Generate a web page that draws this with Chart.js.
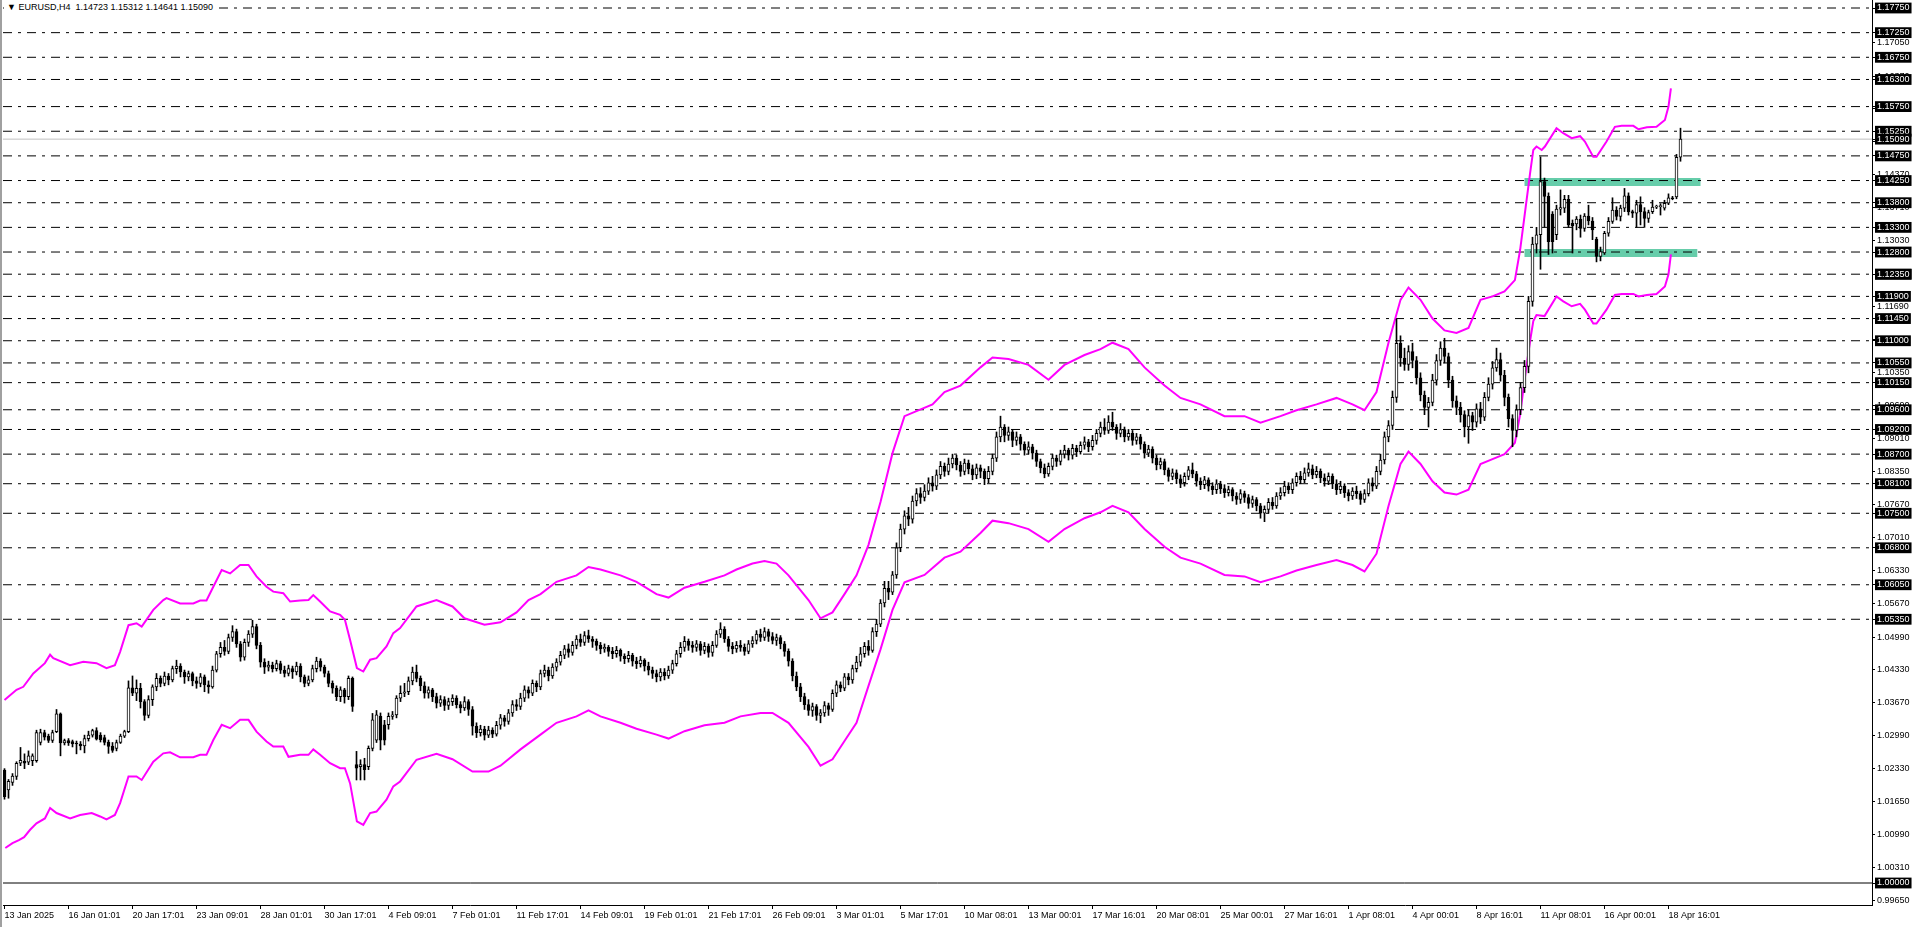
<!DOCTYPE html>
<html>
<head>
<meta charset="utf-8">
<script src="https://cdn.jsdelivr.net/npm/chart.js@4.4.1/dist/chart.umd.min.js"></script>
<style>
  html, body { margin: 0; padding: 0; background: #fff; overflow: hidden; }
  #wrap { position: relative; width: 1920px; height: 927px; }
  #hdr { position: absolute; left: 4px; top: 2px; height: 12px; line-height: 12px; padding: 0 3px;
         font: 9px 'Liberation Sans', Arial, sans-serif; color: #000; background: #fff; white-space: pre; }
</style>
</head>
<body>
<div id="wrap">
  <canvas id="grafico" width="1920" height="927"></canvas>
  <div id="hdr"></div>
</div>
<script>
// Cabecera del gráfico: símbolo y última vela (O H L C)
const symbolTitle = 'EURUSD,H4';
const lastQuote = ['1.14723', '1.15312', '1.14641', '1.15090'];

// Velas H4 [open, high, low, close], separadas por mes
const janBars = [
  [1.0229,1.0232,1.0170,1.0175],[1.0189,1.0210,1.0172,1.0206],[1.0204,1.0222,1.0198,1.0217],[1.0216,1.0246,1.0210,1.0243],[1.0243,1.0275,1.0238,1.0249],[1.0247,1.0262,1.0232,1.0243],[1.0245,1.0268,1.0240,1.0258],[1.0248,1.0262,1.0238,1.0258],[1.0248,1.0310,1.0245,1.0305],[1.0285,1.0312,1.0280,1.0305],
  [1.0305,1.0310,1.0290,1.0296],[1.0298,1.0302,1.0285,1.0289],[1.0289,1.0310,1.0285,1.0305],[1.0307,1.0352,1.0305,1.0343],[1.0343,1.0345,1.0258,1.0284],[1.0284,1.0292,1.0280,1.0289],[1.0289,1.0293,1.0279,1.0284],[1.0287,1.0290,1.0276,1.0282],[1.0284,1.0288,1.0262,1.0282],[1.0282,1.0287,1.0270,1.0278],
  [1.0278,1.0300,1.0264,1.0293],[1.0293,1.0308,1.0288,1.0300],[1.0300,1.0312,1.0296,1.0309],[1.0309,1.0315,1.0290,1.0292],[1.0300,1.0305,1.0286,1.0291],[1.0295,1.0300,1.0280,1.0285],[1.0286,1.0290,1.0263,1.0277],[1.0278,1.0285,1.0265,1.0269],[1.0273,1.0290,1.0268,1.0285],[1.0285,1.0302,1.0283,1.0298],
  [1.0298,1.0310,1.0295,1.0307],[1.0307,1.0410,1.0305,1.0396],[1.0396,1.0420,1.0380,1.0385],[1.0385,1.0412,1.0370,1.0395],[1.0395,1.0405,1.0355,1.0368],[1.0368,1.0372,1.0330,1.0340],[1.0340,1.0380,1.0335,1.0372],[1.0372,1.0402,1.0360,1.0398],[1.0398,1.0425,1.0390,1.0415],[1.0415,1.0420,1.0398,1.0405],
  [1.0405,1.0428,1.0400,1.0420],[1.0420,1.0425,1.0402,1.0412],[1.0412,1.0440,1.0408,1.0435],[1.0435,1.0452,1.0425,1.0440],[1.0440,1.0445,1.0418,1.0428],[1.0428,1.0432,1.0405,1.0418],[1.0418,1.0430,1.0410,1.0425],[1.0425,1.0428,1.0400,1.0410],[1.0410,1.0418,1.0395,1.0405],[1.0405,1.0425,1.0398,1.0418],
  [1.0418,1.0422,1.0388,1.0402],[1.0402,1.0410,1.0385,1.0398],[1.0398,1.0440,1.0395,1.0432],[1.0432,1.0470,1.0428,1.0465],[1.0465,1.0488,1.0458,1.0478],[1.0478,1.0492,1.0462,1.0470],[1.0470,1.0505,1.0465,1.0498],[1.0498,1.0522,1.0490,1.0510],[1.0510,1.0515,1.0478,1.0485],[1.0485,1.0490,1.0450,1.0458],
  [1.0458,1.0495,1.0452,1.0488],[1.0488,1.0512,1.0480,1.0505],[1.0505,1.0533,1.0498,1.0520],[1.0520,1.0525,1.0475,1.0482],[1.0482,1.0488,1.0438,1.0448],[1.0448,1.0455,1.0425,1.0438],[1.0438,1.0450,1.0430,1.0442],[1.0442,1.0448,1.0428,1.0435],[1.0435,1.0452,1.0430,1.0445],[1.0445,1.0450,1.0425,1.0432],
  [1.0432,1.0440,1.0418,1.0425],[1.0425,1.0442,1.0420,1.0435],[1.0435,1.0440,1.0415,1.0428],[1.0428,1.0448,1.0422,1.0440],[1.0440,1.0445,1.0408,1.0418],[1.0418,1.0422,1.0398,1.0405],[1.0405,1.0420,1.0400,1.0412],[1.0412,1.0442,1.0408,1.0435],[1.0435,1.0458,1.0428,1.0450],[1.0450,1.0455,1.0430,1.0438],
  [1.0438,1.0442,1.0418,1.0425],[1.0425,1.0430,1.0398,1.0405],[1.0405,1.0410,1.0385,1.0395],[1.0395,1.0400,1.0370,1.0378],[1.0378,1.0398,1.0368,1.0392],[1.0392,1.0395,1.0365,1.0378],[1.0378,1.0420,1.0372,1.0415],[1.0415,1.0418,1.0348,1.0358]
];
const febBars = [
  [1.0240,1.0267,1.0209,1.0233],[1.0236,1.0250,1.0209,1.0240],[1.0240,1.0253,1.0209,1.0230],[1.0236,1.0278,1.0230,1.0273],[1.0273,1.0344,1.0268,1.0331],[1.0290,1.0350,1.0285,1.0341],[1.0338,1.0345,1.0270,1.0290],[1.0321,1.0330,1.0280,1.0290],[1.0321,1.0345,1.0312,1.0338],[1.0338,1.0348,1.0332,1.0341],
  [1.0341,1.0380,1.0335,1.0375],[1.0375,1.0400,1.0368,1.0385],[1.0385,1.0405,1.0378,1.0388],[1.0388,1.0418,1.0382,1.0410],[1.0410,1.0438,1.0402,1.0428],[1.0428,1.0442,1.0408,1.0415],[1.0415,1.0420,1.0390,1.0400],[1.0400,1.0408,1.0375,1.0385],[1.0385,1.0398,1.0375,1.0392],[1.0392,1.0395,1.0368,1.0378],
  [1.0378,1.0385,1.0355,1.0365],[1.0365,1.0380,1.0358,1.0372],[1.0372,1.0378,1.0350,1.0360],[1.0360,1.0375,1.0352,1.0368],[1.0368,1.0382,1.0360,1.0375],[1.0375,1.0380,1.0355,1.0362],[1.0362,1.0368,1.0345,1.0355],[1.0355,1.0378,1.0350,1.0368],[1.0368,1.0372,1.0340,1.0352],[1.0352,1.0358,1.0300,1.0318],
  [1.0318,1.0325,1.0295,1.0305],[1.0305,1.0320,1.0298,1.0312],[1.0312,1.0318,1.0290,1.0300],[1.0300,1.0318,1.0295,1.0310],[1.0310,1.0315,1.0295,1.0302],[1.0302,1.0328,1.0298,1.0320],[1.0320,1.0342,1.0312,1.0335],[1.0335,1.0340,1.0318,1.0328],[1.0328,1.0352,1.0322,1.0345],[1.0345,1.0370,1.0338,1.0362],
  [1.0362,1.0372,1.0350,1.0358],[1.0358,1.0385,1.0352,1.0375],[1.0375,1.0400,1.0368,1.0392],[1.0392,1.0398,1.0375,1.0385],[1.0385,1.0412,1.0380,1.0405],[1.0405,1.0410,1.0388,1.0398],[1.0398,1.0432,1.0392,1.0425],[1.0425,1.0442,1.0418,1.0432],[1.0432,1.0438,1.0410,1.0420],[1.0420,1.0445,1.0415,1.0438],
  [1.0438,1.0455,1.0430,1.0448],[1.0448,1.0470,1.0442,1.0462],[1.0462,1.0482,1.0455,1.0475],[1.0475,1.0485,1.0458,1.0468],[1.0468,1.0490,1.0462,1.0482],[1.0482,1.0502,1.0475,1.0495],[1.0495,1.0505,1.0480,1.0488],[1.0488,1.0510,1.0482,1.0502],[1.0502,1.0513,1.0488,1.0495],[1.0495,1.0500,1.0478,1.0490],
  [1.0490,1.0495,1.0472,1.0482],[1.0482,1.0488,1.0465,1.0475],[1.0475,1.0485,1.0468,1.0478],[1.0478,1.0482,1.0460,1.0470],[1.0470,1.0478,1.0455,1.0465],[1.0465,1.0480,1.0458,1.0472],[1.0472,1.0475,1.0450,1.0460],[1.0460,1.0465,1.0445,1.0455],[1.0455,1.0470,1.0448,1.0462],[1.0462,1.0466,1.0440,1.0450],
  [1.0450,1.0458,1.0435,1.0445],[1.0445,1.0460,1.0438,1.0452],[1.0452,1.0455,1.0430,1.0440],[1.0440,1.0448,1.0422,1.0432],[1.0432,1.0438,1.0415,1.0425],[1.0425,1.0432,1.0408,1.0418],[1.0418,1.0435,1.0410,1.0428],[1.0428,1.0435,1.0412,1.0420],[1.0420,1.0440,1.0415,1.0432],[1.0432,1.0452,1.0425,1.0445],
  [1.0445,1.0472,1.0440,1.0465],[1.0465,1.0488,1.0458,1.0478],[1.0478,1.0500,1.0470,1.0490],[1.0490,1.0495,1.0472,1.0482],[1.0482,1.0490,1.0468,1.0478],[1.0478,1.0492,1.0470,1.0485],[1.0485,1.0490,1.0462,1.0472],[1.0472,1.0488,1.0465,1.0480],[1.0480,1.0485,1.0458,1.0468],[1.0468,1.0490,1.0460,1.0482],
  [1.0482,1.0512,1.0478,1.0505],[1.0505,1.0528,1.0498,1.0515],[1.0515,1.0520,1.0488,1.0495],[1.0495,1.0500,1.0470,1.0480],[1.0480,1.0488,1.0465,1.0475],[1.0475,1.0490,1.0468,1.0482],[1.0482,1.0492,1.0470,1.0478],[1.0478,1.0485,1.0462,1.0470],[1.0470,1.0492,1.0465,1.0485],[1.0485,1.0500,1.0478,1.0492],
  [1.0492,1.0512,1.0485,1.0505],[1.0505,1.0515,1.0490,1.0498],[1.0498,1.0518,1.0492,1.0510],[1.0510,1.0515,1.0490,1.0500],[1.0500,1.0508,1.0485,1.0492],[1.0492,1.0505,1.0482,1.0498],[1.0498,1.0502,1.0475,1.0485],[1.0485,1.0490,1.0460,1.0470],[1.0470,1.0475,1.0440,1.0450],[1.0450,1.0455,1.0410,1.0420],
  [1.0420,1.0428,1.0390,1.0398],[1.0398,1.0405,1.0368,1.0378],[1.0378,1.0385,1.0352,1.0362],[1.0362,1.0372,1.0340,1.0350],[1.0350,1.0365,1.0338,1.0358],[1.0358,1.0362,1.0330,1.0340],[1.0340,1.0352,1.0325,1.0345],[1.0345,1.0368,1.0338,1.0360],[1.0360,1.0365,1.0340,1.0352],[1.0352,1.0392,1.0348,1.0385]
];
const marBars = [
  [1.0385,1.0410,1.0378,1.0402],[1.0402,1.0408,1.0388,1.0395],[1.0395,1.0425,1.0390,1.0418],[1.0418,1.0425,1.0402,1.0412],[1.0412,1.0442,1.0405,1.0435],[1.0435,1.0460,1.0428,1.0448],[1.0448,1.0478,1.0440,1.0465],[1.0465,1.0488,1.0458,1.0480],[1.0480,1.0492,1.0462,1.0472],[1.0472,1.0518,1.0468,1.0510],
  [1.0510,1.0535,1.0500,1.0525],[1.0525,1.0575,1.0520,1.0568],[1.0568,1.0612,1.0560,1.0598],[1.0598,1.0612,1.0575,1.0590],[1.0590,1.0632,1.0585,1.0625],[1.0625,1.0690,1.0618,1.0680],[1.0680,1.0728,1.0672,1.0718],[1.0718,1.0755,1.0708,1.0745],[1.0745,1.0762,1.0725,1.0738],[1.0738,1.0785,1.0730,1.0775],
  [1.0775,1.0800,1.0765,1.0790],[1.0790,1.0802,1.0770,1.0782],[1.0782,1.0808,1.0775,1.0795],[1.0795,1.0822,1.0788,1.0812],[1.0812,1.0825,1.0795,1.0805],[1.0805,1.0838,1.0798,1.0828],[1.0828,1.0855,1.0820,1.0845],[1.0845,1.0852,1.0825,1.0835],[1.0835,1.0862,1.0828,1.0850],[1.0850,1.0870,1.0842,1.0862],
  [1.0862,1.0868,1.0838,1.0848],[1.0848,1.0855,1.0825,1.0835],[1.0835,1.0860,1.0828,1.0852],[1.0852,1.0858,1.0830,1.0840],[1.0840,1.0848,1.0818,1.0828],[1.0828,1.0850,1.0820,1.0842],[1.0842,1.0848,1.0822,1.0835],[1.0835,1.0840,1.0808,1.0820],[1.0820,1.0845,1.0812,1.0835],[1.0835,1.0870,1.0828,1.0862],
  [1.0862,1.0915,1.0855,1.0905],[1.0905,1.0947,1.0895,1.0925],[1.0925,1.0930,1.0895,1.0908],[1.0908,1.0925,1.0898,1.0915],[1.0915,1.0920,1.0885,1.0898],[1.0898,1.0915,1.0888,1.0905],[1.0905,1.0910,1.0878,1.0890],[1.0890,1.0895,1.0868,1.0878],[1.0878,1.0895,1.0870,1.0885],[1.0885,1.0890,1.0860,1.0872],
  [1.0872,1.0878,1.0845,1.0855],[1.0855,1.0860,1.0832,1.0842],[1.0842,1.0850,1.0822,1.0830],[1.0830,1.0852,1.0825,1.0845],[1.0845,1.0870,1.0838,1.0862],[1.0862,1.0868,1.0845,1.0855],[1.0855,1.0878,1.0848,1.0870],[1.0870,1.0888,1.0862,1.0878],[1.0878,1.0882,1.0858,1.0868],[1.0868,1.0890,1.0860,1.0882],
  [1.0882,1.0888,1.0865,1.0875],[1.0875,1.0895,1.0870,1.0888],[1.0888,1.0905,1.0880,1.0895],[1.0895,1.0900,1.0875,1.0885],[1.0885,1.0908,1.0878,1.0898],[1.0898,1.0920,1.0890,1.0912],[1.0912,1.0935,1.0905,1.0925],[1.0925,1.0942,1.0910,1.0918],[1.0918,1.0948,1.0912,1.0935],[1.0935,1.0955,1.0918,1.0925],
  [1.0925,1.0930,1.0900,1.0912],[1.0912,1.0932,1.0905,1.0920],[1.0920,1.0925,1.0895,1.0905],[1.0905,1.0920,1.0898,1.0912],[1.0912,1.0918,1.0888,1.0898],[1.0898,1.0912,1.0890,1.0905],[1.0905,1.0910,1.0880,1.0890],[1.0890,1.0895,1.0862,1.0872],[1.0872,1.0888,1.0865,1.0880],[1.0880,1.0885,1.0852,1.0862],
  [1.0862,1.0868,1.0838,1.0848],[1.0848,1.0862,1.0840,1.0855],[1.0855,1.0860,1.0828,1.0838],[1.0838,1.0842,1.0815,1.0825],[1.0825,1.0840,1.0818,1.0832],[1.0832,1.0838,1.0810,1.0820],[1.0820,1.0828,1.0802,1.0812],[1.0812,1.0832,1.0805,1.0825],[1.0825,1.0845,1.0818,1.0838],[1.0838,1.0852,1.0822,1.0830],
  [1.0830,1.0835,1.0805,1.0815],[1.0815,1.0822,1.0798,1.0808],[1.0808,1.0825,1.0800,1.0818],[1.0818,1.0822,1.0795,1.0805],[1.0805,1.0812,1.0788,1.0798],[1.0798,1.0818,1.0790,1.0810],[1.0810,1.0815,1.0790,1.0800],[1.0800,1.0808,1.0782,1.0792],[1.0792,1.0805,1.0785,1.0798],[1.0798,1.0802,1.0775,1.0785],
  [1.0785,1.0792,1.0768,1.0778],[1.0778,1.0798,1.0770,1.0790],[1.0790,1.0795,1.0772,1.0782],[1.0782,1.0788,1.0760,1.0770],[1.0770,1.0785,1.0762,1.0778],[1.0778,1.0782,1.0755,1.0765],[1.0765,1.0770,1.0740,1.0750],[1.0750,1.0765,1.0733,1.0758],[1.0758,1.0780,1.0750,1.0772],[1.0772,1.0782,1.0758,1.0765],
  [1.0765,1.0792,1.0760,1.0785],[1.0785,1.0802,1.0778,1.0792],[1.0792,1.0815,1.0785,1.0805],[1.0805,1.0812,1.0790,1.0798],[1.0798,1.0820,1.0790,1.0812],[1.0812,1.0832,1.0805,1.0825],[1.0825,1.0835,1.0810,1.0818],[1.0818,1.0842,1.0812,1.0832],[1.0832,1.0852,1.0825,1.0840],[1.0840,1.0848,1.0820,1.0828],
  [1.0828,1.0845,1.0822,1.0835],[1.0835,1.0840,1.0812,1.0822],[1.0822,1.0830,1.0805,1.0815],[1.0815,1.0832,1.0808,1.0825],[1.0825,1.0830,1.0800,1.0810],[1.0810,1.0818,1.0788,1.0798]
];
const aprBars = [
  [1.0798,1.0815,1.0790,1.0805],[1.0805,1.0810,1.0782,1.0792],[1.0792,1.0798,1.0775,1.0785],[1.0785,1.0802,1.0778,1.0795],[1.0795,1.0805,1.0780,1.0790],[1.0790,1.0795,1.0768,1.0778],[1.0778,1.0798,1.0772,1.0790],[1.0790,1.0820,1.0785,1.0812],[1.0812,1.0822,1.0795,1.0805],[1.0805,1.0845,1.0800,1.0835],
  [1.0835,1.0870,1.0828,1.0858],[1.0858,1.0915,1.0850,1.0905],[1.0905,1.0938,1.0895,1.0928],[1.0928,1.0998,1.0920,1.0985],[1.0985,1.1144,1.0975,1.1095],[1.1095,1.1110,1.1048,1.1065],[1.1065,1.1085,1.1040,1.1052],[1.1052,1.1090,1.1040,1.1078],[1.1078,1.1095,1.1045,1.1060],[1.1060,1.1068,1.1012,1.1025],
  [1.1025,1.1035,1.0978,1.0990],[1.0990,1.0998,1.0950,1.0965],[1.0965,1.0985,1.0925,1.0975],[1.0975,1.1032,1.0968,1.1020],[1.1020,1.1072,1.1010,1.1060],[1.1060,1.1098,1.1050,1.1085],[1.1085,1.1105,1.1055,1.1068],[1.1068,1.1075,1.1005,1.1020],[1.1020,1.1028,1.0965,1.0978],[1.0978,1.0988,1.0950,1.0965],
  [1.0965,1.0975,1.0935,1.0950],[1.0950,1.0958,1.0905,1.0925],[1.0925,1.0960,1.0892,1.0948],[1.0948,1.0955,1.0918,1.0935],[1.0935,1.0972,1.0925,1.0962],[1.0962,1.0975,1.0932,1.0945],[1.0945,1.0995,1.0938,1.0985],[1.0985,1.1025,1.0978,1.1012],[1.1012,1.1058,1.1002,1.1045],[1.1045,1.1085,1.1038,1.1062],
  [1.1062,1.1075,1.1018,1.1030],[1.1030,1.1040,1.0968,1.0985],[1.0985,1.0992,1.0925,1.0942],[1.0942,1.0950,1.0885,1.0918],[1.0918,1.0970,1.0905,1.0960],[1.0960,1.1015,1.0950,1.1005],[1.1005,1.1060,1.0995,1.1048],[1.1048,1.1190,1.1035,1.1180],[1.1180,1.1310,1.1170,1.1296],[1.1296,1.1330,1.1278,1.1315],
  [1.1315,1.1473,1.1245,1.1423],[1.1423,1.1430,1.1330,1.1393],[1.1393,1.1400,1.1275,1.1301],[1.1357,1.1362,1.1278,1.1301],[1.1315,1.1375,1.1305,1.1367],[1.1367,1.1406,1.1355,1.1370],[1.1369,1.1395,1.1360,1.1387],[1.1387,1.1395,1.1330,1.1335],[1.1338,1.1345,1.1278,1.1333],[1.1337,1.1352,1.1325,1.1347],
  [1.1347,1.1355,1.1310,1.1328],[1.1328,1.1358,1.1322,1.1353],[1.1353,1.1375,1.1335,1.1343],[1.1343,1.1350,1.1305,1.1325],[1.1306,1.1310,1.1260,1.1271],[1.1271,1.1290,1.1262,1.1281],[1.1278,1.1322,1.1275,1.1318],[1.1318,1.1350,1.1312,1.1342],[1.1342,1.1390,1.1338,1.1365],[1.1365,1.1372,1.1345,1.1352],
  [1.1352,1.1375,1.1343,1.1369],[1.1369,1.1409,1.1362,1.1394],[1.1394,1.1400,1.1355,1.1362],[1.1362,1.1365,1.1350,1.1359],[1.1359,1.1385,1.1330,1.1376],[1.1376,1.1392,1.1335,1.1362],[1.1362,1.1370,1.1330,1.1348],[1.1348,1.1365,1.1340,1.1360],[1.1362,1.1385,1.1358,1.1371],[1.1371,1.1375,1.1368,1.1372],
  [1.1372,1.1378,1.1355,1.1374],[1.1369,1.1385,1.1365,1.1379],[1.1379,1.1398,1.1376,1.1390],[1.1390,1.1393,1.1386,1.1388],[1.1392,1.1478,1.1388,1.1472],[1.14723,1.15312,1.14641,1.15090]
];

// Envolventes (magenta): [índice de vela, precio]
const upperBand = [
  [0,1.0371],[3,1.0392],[4.7,1.0398],[7.2,1.0425],[10.1,1.0446],[11.4,1.0463],[12.2,1.0456],[16.4,1.0442],[19.7,1.0449],[23,1.0446],[25.5,1.0436],[27.6,1.0442],[28.9,1.0469],[31,1.0523],[33,1.0527],[34.3,1.0520],[37.2,1.0554],[39.7,1.0574],[40.5,1.0578],[43.9,1.0567],[47.2,1.0567],[48.9,1.0573],[50.5,1.0573],[52.2,1.0601],[54.3,1.0635],[56.4,1.0628],[58.9,1.0645],[61,1.0645],[63,1.0622],[65.5,1.0601],[67.2,1.0591],[69.7,1.0588],[71.4,1.0571],[73.9,1.0573],[76,1.0574],[77.2,1.0584],[78.9,1.0571],[81.4,1.0551],[83.9,1.0544],[85.1,1.0534],[86.4,1.0493],[88.1,1.0436],[89.7,1.0429],[91.4,1.0453],[93,1.0456],[95.5,1.0480],[97.2,1.0507],[98.9,1.0517],
  [103,1.0561],[108,1.0574],[112,1.0561],[115,1.0537],[120,1.0524],[124,1.0529],[128,1.0549],[131,1.0574],[134,1.0586],[138,1.0611],[143,1.0624],[146,1.0641],[149,1.0636],[154,1.0624],[158,1.0611],[163,1.0586],[166,1.0579],[170,1.0599],[175,1.0611],[180,1.0624],[183,1.0636],[187,1.0648],[190,1.0653],[193,1.0648],[196,1.0624],[201,1.0574],[204,1.0537],[207,1.0549],[210,1.0586],[213,1.0624],[216,1.0686],[219,1.0773],[222,1.0872],[225,1.0947],[232,1.0971],[235,1.0996],[239,1.1009],[244,1.1046],[247,1.1066],[251,1.1063],[256,1.1051],[261,1.1021],[265,1.1051],[270,1.1071],[274,1.1083],[277,1.1096],[281,1.1083],[285,1.1046],[290,1.1009],[294,1.0984],[299,1.0971],[305,1.0947],[310,1.0947],[314,1.0934],[319,1.0947],[323,1.0959],[328,1.0971],[333,1.0984],[337,1.0971],[340,1.0959],[343,1.0996],[346,1.1096],[349,1.1183],[351,1.1208],[354,1.1183],[357,1.1145],[360,1.1121],[363,1.1116],[366,1.1126],[369,1.1183],[372,1.1190],[375,1.1200],
  [377.6,1.1223],[378.9,1.1284],[380.1,1.1359],[381.4,1.1440],[382.2,1.1487],[383,1.1494],[384.3,1.1487],[385.1,1.1494],[388,1.1531],[389.7,1.1521],[391.8,1.1511],[393.9,1.1515],[395.1,1.1504],[397.2,1.1473],[398,1.1473],[400.5,1.1504],[402.6,1.1534],[404.3,1.1536],[407.2,1.1536],[408.5,1.1529],[410.6,1.1533],[413,1.1534],[415.1,1.1548],[416,1.1575],[416.6,1.1612]
];
const lowerBand = [
  [0.2,1.0071],[2,1.0081],[3.6,1.0087],[4.9,1.0093],[6.4,1.0108],[8,1.0121],[10.1,1.0131],[11.4,1.0152],[13,1.0142],[16.4,1.0131],[18.9,1.0138],[21.8,1.0142],[23.9,1.0135],[25.5,1.0129],[27.6,1.0138],[28.9,1.0162],[31,1.0216],[33,1.0216],[34.3,1.0209],[37.2,1.0246],[39.7,1.0263],[41.4,1.0265],[43.9,1.0255],[47.2,1.0255],[48.9,1.0260],[50.5,1.0260],[52.2,1.0290],[54.3,1.0321],[56.4,1.0314],[58.9,1.0331],[61,1.0331],[63,1.0307],[65.5,1.0287],[67.2,1.0277],[69.7,1.0277],[71,1.0256],[73.9,1.0260],[76,1.0260],[77.2,1.0271],[78.9,1.0260],[81.4,1.0243],[83.9,1.0233],[85.1,1.0233],[86.4,1.0202],[88.1,1.0125],[89.7,1.0118],[91.4,1.0142],[93,1.0145],[95.5,1.0169],[97.2,1.0196],[98.9,1.0206],
  [103,1.0250],[108,1.0262],[112,1.0251],[117,1.0226],[121,1.0226],[124,1.0238],[129,1.0271],[134,1.0301],[138,1.0325],[143,1.0338],[146,1.0350],[149,1.0338],[154,1.0325],[158,1.0313],[163,1.0301],[166,1.0293],[170,1.0308],[175,1.0320],[180,1.0325],[184,1.0338],[189,1.0345],[192,1.0345],[196,1.0325],[201,1.0276],[204,1.0238],[207,1.0251],[210,1.0288],[213,1.0325],[216,1.0400],[219,1.0474],[222,1.0554],[225,1.0610],[230,1.0625],[235,1.0660],[239,1.0672],[244,1.0710],[247,1.0735],[251,1.0730],[256,1.0718],[261,1.0692],[265,1.0718],[270,1.0740],[274,1.0752],[277,1.0765],[281,1.0752],[285,1.0718],[290,1.0682],[294,1.0660],[299,1.0648],[305,1.0625],[310,1.0622],[314,1.0610],[319,1.0622],[323,1.0634],[328,1.0645],[333,1.0655],[337,1.0645],[340,1.0632],[343,1.0668],[346,1.0765],[349,1.0850],[351,1.0875],[354,1.0850],[357,1.0815],[360,1.0792],[363,1.0788],[366,1.0798],[369,1.0850],[372,1.0860],[375,1.0870],
  [377.6,1.0893],[378.9,1.0950],[380.1,1.1025],[381.4,1.1100],[382.2,1.1140],[383,1.1152],[385,1.1150],[388,1.1190],[389.7,1.1180],[391.8,1.1170],[393.9,1.1175],[395.1,1.1163],[397.2,1.1135],[398,1.1135],[400.5,1.1163],[402.6,1.1193],[404.3,1.1195],[407.2,1.1195],[408.5,1.1190],[410.6,1.1193],[413,1.1195],[415.1,1.1210],[416,1.1235],[416.6,1.1275]
];

// Niveles horizontales discontinuos (etiqueta negra en el eje)
const levelLines = [1.1775,1.1725,1.1675,1.1630,1.1575,1.1525,1.1475,1.1425,1.1380,1.1330,1.1280,1.1235,1.1190,1.1145,1.1100,1.1055,1.1015,1.0960,1.0920,1.0870,1.0810,1.0750,1.0680,1.0605,1.0535];
const baseLevel = 1.0000;
const bidLevel = 1.15090;
// Zonas verdes: [precio, vela inicial, vela final]
const zones = [[1.1422, 380, 424], [1.1278, 380, 423.2]];
// Escala de precios normal del eje derecho
const priceTicks = [0.9965,1.0031,1.0099,1.0165,1.0233,1.0299,1.0367,1.0433,1.0499,1.0567,1.0633,1.0701,1.0767,1.0835,1.0901,1.0969,1.1035,1.1103,1.1169,1.1235,1.1303,1.1371,1.1437,1.1505,1.1571,1.1637,1.1705,1.1773];
// Etiquetas de tiempo (cada 16 velas)
const timeTickBars = [0,16,32,48,64,80,96,112,128,144,160,176,192,208,224,240,256,272,288,304,320,336,352,368,384,400,416];
const timeTickLabels = ['13 Jan 2025','16 Jan 01:01','20 Jan 17:01','23 Jan 09:01','28 Jan 01:01','30 Jan 17:01','4 Feb 09:01','7 Feb 01:01','11 Feb 17:01','14 Feb 09:01','19 Feb 01:01','21 Feb 17:01','26 Feb 09:01','3 Mar 01:01','5 Mar 17:01','10 Mar 08:01','13 Mar 00:01','17 Mar 16:01','20 Mar 08:01','25 Mar 00:01','27 Mar 16:01','1 Apr 08:01','4 Apr 00:01','8 Apr 16:01','11 Apr 08:01','16 Apr 00:01','18 Apr 16:01'];

document.getElementById('hdr').textContent = '\u25BC ' + symbolTitle + '  ' + lastQuote.join(' ');

const allBars = [...janBars, ...febBars, ...marBars, ...aprBars];
const X_MIN = -0.375, X_MAX = 466.875;
const boxedLevels = [...levelLines, bidLevel, baseLevel];
const isBoxed = v => boxedLevels.some(l => Math.abs(l - v) < 1e-7);
const FONT = { family: "'Liberation Sans', Arial, sans-serif", size: 9 };

function hLine(level, color, dash, order) {
  return {
    type: 'line', order: order,
    data: [{ x: X_MIN, y: level }, { x: X_MAX, y: level }],
    borderColor: color, borderWidth: 1, borderDash: dash,
    pointRadius: 0, fill: false
  };
}

const datasets = [];
// zonas verdes (al fondo)
zones.forEach(z => datasets.push({
  type: 'line', order: 20,
  data: [{ x: z[1], y: z[0] }, { x: z[2], y: z[0] }],
  borderColor: '#66CDAA', borderWidth: 8, borderCapStyle: 'butt', pointRadius: 0
}));
levelLines.forEach(l => datasets.push(hLine(l, '#000', [9, 6, 3, 6], 10)));
datasets.push(hLine(baseLevel, '#000', [], 10));
datasets.push(hLine(bidLevel, '#C0C0C0', [], 11));
// envolventes
[upperBand, lowerBand].forEach(b => datasets.push({
  type: 'line', order: 3,
  data: b.map(p => ({ x: p[0], y: p[1] })),
  borderColor: '#FF00FF', borderWidth: 2, pointRadius: 0, tension: 0
}));
// mechas
datasets.push({
  type: 'bar', order: 2, grouped: false,
  data: allBars.map((b, i) => ({ x: i, y: [b[2], b[1]] })),
  backgroundColor: '#000', barThickness: 1, borderWidth: 0
});
// cuerpos
datasets.push({
  type: 'bar', order: 1, grouped: false,
  data: allBars.map((b, i) => ({ x: i, y: [b[0], b[3]] })),
  backgroundColor: ctx => {
    const b = allBars[ctx.dataIndex];
    return b && b[3] < b[0] ? '#000' : '#fff';
  },
  borderColor: '#000', borderWidth: 1, borderSkipped: false,
  barThickness: 3, minBarLength: 1
});

const frame = {
  id: 'frame',
  beforeDraw(chart) {
    const c = chart.ctx;
    c.save();
    c.fillStyle = '#fff';
    c.fillRect(0, 0, chart.width, chart.height);
    c.fillStyle = '#A0A0A0';
    c.fillRect(0, 0, 2, chart.height);
    c.restore();
  }
};

new Chart(document.getElementById('grafico'), {
  type: 'line',
  data: { datasets },
  plugins: [frame],
  options: {
    responsive: false, animation: false, devicePixelRatio: 1,
    layout: { padding: { left: 3, right: 0, top: 0, bottom: 0 }, autoPadding: false },
    plugins: { legend: { display: false }, tooltip: { enabled: false } },
    scales: {
      x: {
        type: 'linear', min: X_MIN, max: X_MAX, bounds: 'data', offset: false,
        afterBuildTicks: s => { s.ticks = timeTickBars.map(v => ({ value: v })); },
        afterFit: s => { s.height = 22; s.paddingLeft = 0; s.paddingRight = 0; },
        ticks: {
          autoSkip: false, maxRotation: 0, align: 'start', padding: 1, color: '#000', font: FONT,
          callback: v => timeTickLabels[timeTickBars.indexOf(v)]
        },
        grid: { drawOnChartArea: false, drawTicks: true, tickLength: 4, color: '#000', offset: false },
        border: { display: true, color: '#000' }
      },
      y: {
        type: 'linear', position: 'right', min: 0.995538, max: 1.179123, bounds: 'data',
        afterBuildTicks: s => { s.ticks = [...priceTicks, ...boxedLevels].map(v => ({ value: v })); },
        afterFit: s => { s.width = 48; s.paddingTop = 0; s.paddingBottom = 0; },
        ticks: {
          autoSkip: false, padding: 2, font: FONT,
          color: ctx => isBoxed(ctx.tick.value) ? '#fff' : '#000',
          showLabelBackdrop: ctx => isBoxed(ctx.tick.value),
          backdropColor: '#000',
          backdropPadding: { left: 2, right: 2, top: 0, bottom: 0 },
          callback: v => v.toFixed(5)
        },
        grid: { drawOnChartArea: false, drawTicks: true, tickLength: 3, color: '#000' },
        border: { display: true, color: '#000' }
      }
    }
  }
});
</script>
</body>
</html>
